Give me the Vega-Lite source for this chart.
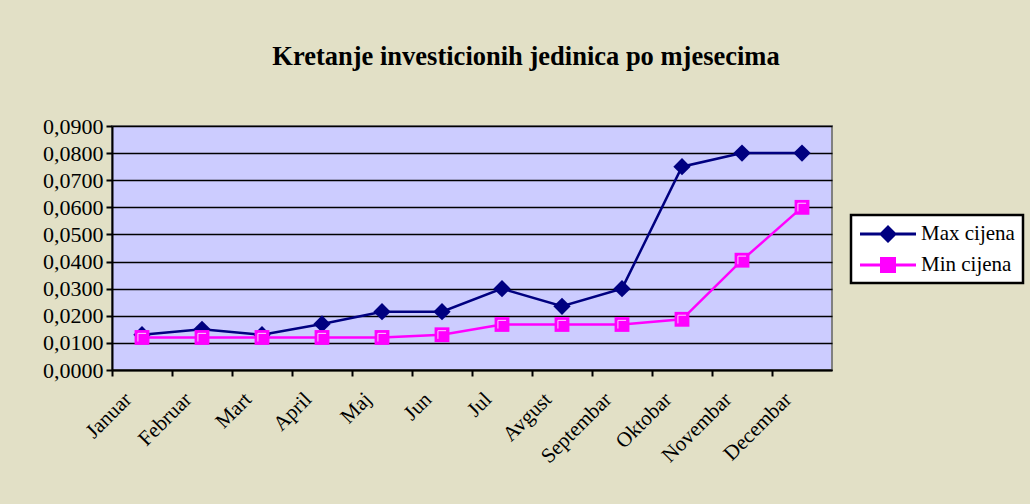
{
  "$schema": "https://vega.github.io/schema/vega-lite/v6.json",
  "width": 720,
  "height": 244,
  "autosize": {"type": "none"},
  "padding": {"left": 112, "top": 126, "right": 198, "bottom": 134},
  "background": "#e2e0c6",
  "title": {
    "text": "Kretanje investicionih jedinica po mjesecima",
    "font": "Liberation Serif",
    "fontSize": 26.5,
    "fontWeight": "bold",
    "color": "black",
    "anchor": "middle",
    "frame": "group",
    "baseline": "alphabetic",
    "dx": 54,
    "offset": 24
  },
  "data": {
    "values": [
      {"mjesec": "Januar", "serija": "Max cijena", "cijena": 0.013},
      {"mjesec": "Februar", "serija": "Max cijena", "cijena": 0.015},
      {"mjesec": "Mart", "serija": "Max cijena", "cijena": 0.013},
      {"mjesec": "April", "serija": "Max cijena", "cijena": 0.017},
      {"mjesec": "Maj", "serija": "Max cijena", "cijena": 0.0215},
      {"mjesec": "Jun", "serija": "Max cijena", "cijena": 0.0215},
      {"mjesec": "Jul", "serija": "Max cijena", "cijena": 0.030},
      {"mjesec": "Avgust", "serija": "Max cijena", "cijena": 0.0235},
      {"mjesec": "Septembar", "serija": "Max cijena", "cijena": 0.030},
      {"mjesec": "Oktobar", "serija": "Max cijena", "cijena": 0.075},
      {"mjesec": "Novembar", "serija": "Max cijena", "cijena": 0.080},
      {"mjesec": "Decembar", "serija": "Max cijena", "cijena": 0.080},
      {"mjesec": "Januar", "serija": "Min cijena", "cijena": 0.012},
      {"mjesec": "Februar", "serija": "Min cijena", "cijena": 0.012},
      {"mjesec": "Mart", "serija": "Min cijena", "cijena": 0.012},
      {"mjesec": "April", "serija": "Min cijena", "cijena": 0.012},
      {"mjesec": "Maj", "serija": "Min cijena", "cijena": 0.012},
      {"mjesec": "Jun", "serija": "Min cijena", "cijena": 0.013},
      {"mjesec": "Jul", "serija": "Min cijena", "cijena": 0.0168},
      {"mjesec": "Avgust", "serija": "Min cijena", "cijena": 0.0168},
      {"mjesec": "Septembar", "serija": "Min cijena", "cijena": 0.0168},
      {"mjesec": "Oktobar", "serija": "Min cijena", "cijena": 0.0187},
      {"mjesec": "Novembar", "serija": "Min cijena", "cijena": 0.0405},
      {"mjesec": "Decembar", "serija": "Min cijena", "cijena": 0.060}
    ]
  },
  "encoding": {
    "x": {
      "field": "mjesec",
      "type": "nominal",
      "sort": null,
      "scale": {"type": "point", "padding": 0.5},
      "axis": {
        "title": null,
        "labelAngle": -45,
        "labelAlign": "right",
        "labelBaseline": "middle",
        "tickOffset": -30,
        "labelOffset": 16,
        "labelPadding": 20,
        "tickSize": 6,
        "tickWidth": 2,
        "tickColor": "black",
        "domainColor": "black",
        "domainWidth": 2,
        "labelFont": "Liberation Serif",
        "labelFontSize": 21,
        "labelColor": "black",
        "grid": false
      }
    },
    "y": {
      "field": "cijena",
      "type": "quantitative",
      "scale": {"domain": [0, 0.09], "nice": false},
      "axis": {
        "title": null,
        "values": [0, 0.01, 0.02, 0.03, 0.04, 0.05, 0.06, 0.07, 0.08, 0.09],
        "labelExpr": "replace(format(datum.value, '.4f'), '.', ',')",
        "tickSize": 6,
        "tickWidth": 2,
        "tickColor": "black",
        "domainColor": "black",
        "domainWidth": 2,
        "labelPadding": 3,
        "labelFont": "Liberation Serif",
        "labelFontSize": 22,
        "labelColor": "black",
        "grid": true,
        "gridColor": "black",
        "gridWidth": 1.5,
        "gridOpacity": 1
      }
    }
  },
  "layer": [
    {
      "transform": [{"filter": "datum.serija == 'Max cijena'"}],
      "mark": {"type": "line", "strokeWidth": 2.5, "color": "#000080"}
    },
    {
      "transform": [{"filter": "datum.serija == 'Min cijena'"}],
      "mark": {"type": "line", "strokeWidth": 2.5, "color": "#ff00ff"}
    },
    {
      "transform": [{"filter": "datum.serija == 'Max cijena'"}],
      "mark": {"type": "point", "shape": "diamond", "filled": true, "size": 300, "opacity": 1, "color": "#000080"}
    },
    {
      "transform": [{"filter": "datum.serija == 'Min cijena'"}],
      "mark": {"type": "point", "shape": "square", "filled": true, "size": 220, "opacity": 1, "color": "#ff00ff"}
    },
    {
      "transform": [{"filter": "datum.serija == 'Min cijena'"}],
      "mark": {"type": "point", "shape": "M-0.55,0.55V-0.55H0.55", "filled": false, "size": 220, "stroke": "#ffffff", "strokeWidth": 1, "opacity": 0.8}
    },
    {
      "transform": [{"filter": "false"}],
      "mark": {"type": "point", "filled": true, "opacity": 1},
      "encoding": {
        "color": {
          "field": "serija",
          "type": "nominal",
          "scale": {"domain": ["Max cijena", "Min cijena"], "range": ["#000080", "#ff00ff"]},
          "legend": {
            "title": null,
            "orient": "none",
            "legendX": 739,
            "legendY": 89,
            "padding": 8,
            "rowPadding": 10,
            "symbolSize": 400,
            "symbolOpacity": 1,
            "labelOffset": 40,
            "labelFont": "Liberation Serif",
            "labelFontSize": 21,
            "labelColor": "black",
            "fillColor": "white",
            "strokeColor": "black",
            "encode": {"legend": {"update": {"strokeWidth": {"value": 2.5}}}}
          }
        },
        "shape": {
          "field": "serija",
          "type": "nominal",
          "scale": {
            "domain": ["Max cijena", "Min cijena"],
            "range": [
              "M-1,-0.15H4.6V0.15H-1Z M0.9,0L1.8,-0.9L2.7,0L1.8,0.9Z",
              "M-1,-0.15H4.6V0.15H-1Z M1,-0.8H2.6V0.8H1Z"
            ]
          },
          "legend": {
            "title": null,
            "orient": "none",
            "legendX": 739,
            "legendY": 89,
            "padding": 8,
            "rowPadding": 10,
            "symbolSize": 400,
            "symbolOpacity": 1,
            "labelOffset": 40,
            "labelFont": "Liberation Serif",
            "labelFontSize": 21,
            "labelColor": "black",
            "fillColor": "white",
            "strokeColor": "black",
            "encode": {"legend": {"update": {"strokeWidth": {"value": 2.5}}}}
          }
        }
      }
    }
  ],
  "config": {
    "view": {"fill": "#ccccff", "stroke": "#808080", "strokeWidth": 2}
  }
}
